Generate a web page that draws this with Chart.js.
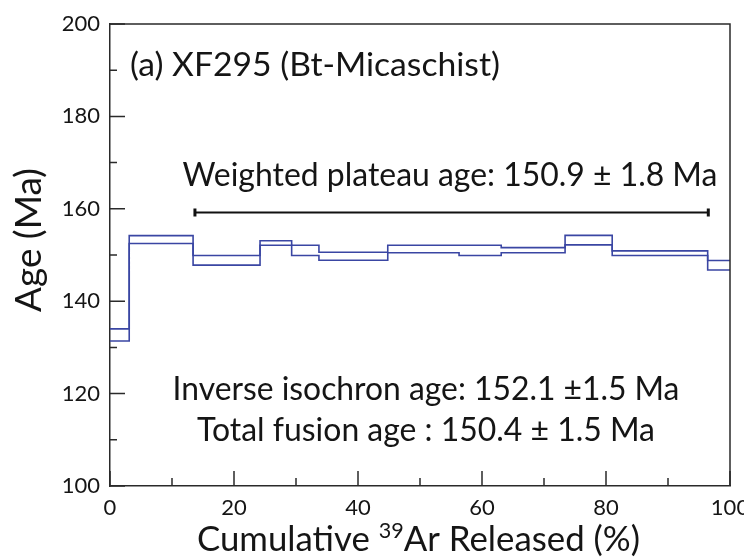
<!DOCTYPE html>
<html><head><meta charset="utf-8">
<script src="https://cdn.jsdelivr.net/npm/chart.js@4/dist/chart.umd.min.js"></script>
<style>html,body{margin:0;padding:0;background:#fff}#wrap{width:744px;height:558px}</style>
</head><body><div id="wrap"><canvas id="c" width="744" height="558"></canvas></div>
<script>
// ---- data ----
const stepStart = [0, 3.1, 13.4, 24.2, 29.3, 33.7, 44.8, 56.3, 63.1, 73.4, 81.0, 96.4];
const stepEnd = 100;
const upperAge = [134.0, 154.2, 149.9, 153.1, 152.1, 150.6, 152.1, 152.1, 151.6, 154.25, 150.9, 148.8];
const lowerAge = [131.4, 152.5, 147.8, 152.1, 149.9, 148.85, 150.5, 149.9, 150.5, 152.2, 149.9, 146.75];
const plateauX = [13.7, 96.5];
const plateauY = 159.2;
const xMajorTicks = [0, 20, 40, 60, 80, 100];
const xMinorTicks = [10, 30, 50, 70, 90];
const yMajorTicks = [100, 120, 140, 160, 180, 200];
const yMinorTicks = [110, 130, 150, 170, 190];
const sampleLabel = "(a) XF295 (Bt-Micaschist)";
const plateauLabel = "Weighted plateau age: 150.9 \u00B1 1.8 Ma";
const isochronLabel = "Inverse isochron age: 152.1 \u00B11.5 Ma";
const fusionLabel = "Total fusion age : 150.4 \u00B1 1.5 Ma";
const yTitle = "Age (Ma)";
const xTitleParts = ["Cumulative ", "39", "Ar Released (%)"];

const FONT = "Lato";
const BLUE = "#3a46a3";

function stepPoints(vals) {
  const pts = stepStart.map((x, i) => ({x, y: vals[i]}));
  pts.push({x: stepEnd, y: vals[vals.length - 1]});
  return pts;
}

function fitDraw(ctx, text, x, y, targetW, align, base) {
  ctx.font = base + "px " + FONT;
  const w = ctx.measureText(text).width;
  const size = base * targetW / w;
  ctx.font = size.toFixed(2) + "px " + FONT;
  ctx.textAlign = align;
  ctx.textBaseline = "alphabetic";
  ctx.fillText(text, x, y);
}

const decor = {
  id: "decor",
  afterDraw(chart) {
    const ctx = chart.ctx, a = chart.chartArea;
    const xs = chart.scales.x, ys = chart.scales.y;
    ctx.save();
    ctx.strokeStyle = "#2a2a2a";
    ctx.lineWidth = 1.5;
    ctx.beginPath();
    ctx.moveTo(a.left, a.top); ctx.lineTo(a.right, a.top); ctx.lineTo(a.right, a.bottom);
    ctx.stroke();
    ctx.beginPath();
    yMajorTicks.forEach(v => { const p = ys.getPixelForValue(v); ctx.moveTo(a.left, p); ctx.lineTo(a.left + 15, p); });
    yMinorTicks.forEach(v => { const p = ys.getPixelForValue(v); ctx.moveTo(a.left, p); ctx.lineTo(a.left + 7, p); });
    xMajorTicks.forEach(v => { const p = xs.getPixelForValue(v); ctx.moveTo(p, a.bottom); ctx.lineTo(p, a.bottom - 15); });
    xMinorTicks.forEach(v => { const p = xs.getPixelForValue(v); ctx.moveTo(p, a.bottom); ctx.lineTo(p, a.bottom - 8); });
    ctx.stroke();

    ctx.fillStyle = "#151515";
    fitDraw(ctx, sampleLabel, 130, 76, 370, "left", 28);
    fitDraw(ctx, plateauLabel, 450, 186, 535, "center", 28);
    fitDraw(ctx, isochronLabel, 426, 400, 507, "center", 28);
    fitDraw(ctx, fusionLabel, 426, 441, 458, "center", 28);

    // y title
    ctx.save();
    ctx.translate(41, 240);
    ctx.rotate(-Math.PI / 2);
    fitDraw(ctx, yTitle, 0, 0, 144, "center", 32);
    ctx.restore();

    // x title with superscript
    const base = 32, supR = 0.62;
    ctx.font = base + "px " + FONT;
    const w0 = ctx.measureText(xTitleParts[0]).width;
    const w2 = ctx.measureText(xTitleParts[2]).width;
    ctx.font = (base * supR) + "px " + FONT;
    const w1 = ctx.measureText(xTitleParts[1]).width;
    const k = 443 / (w0 + w1 + w2);
    const s = base * k;
    let x = 197, y = 551;
    ctx.textAlign = "left"; ctx.textBaseline = "alphabetic";
    ctx.font = s.toFixed(2) + "px " + FONT;
    ctx.fillText(xTitleParts[0], x, y); x += w0 * k;
    ctx.font = (s * supR).toFixed(2) + "px " + FONT;
    ctx.fillText(xTitleParts[1], x, y - s * 0.38); x += w1 * k;
    ctx.font = s.toFixed(2) + "px " + FONT;
    ctx.fillText(xTitleParts[2], x, y);
    ctx.restore();
  }
};

new Chart(document.getElementById("c"), {
  type: "scatter",
  data: {
    datasets: [
      {data: stepPoints(upperAge), showLine: true, stepped: true, borderColor: BLUE, borderWidth: 1.6, pointRadius: 0, fill: false},
      {data: stepPoints(lowerAge), showLine: true, stepped: true, borderColor: BLUE, borderWidth: 1.6, pointRadius: 0, fill: false},
      {data: plateauX.map(x => ({x, y: plateauY})), showLine: true, borderColor: "#111", borderWidth: 2,
       pointStyle: "line", rotation: 90, pointRadius: 4, pointBorderWidth: 3, pointBorderColor: "#111", fill: false}
    ]
  },
  options: {
    responsive: false, animation: false, devicePixelRatio: 1,
    layout: {padding: {left: 0, top: 24, right: 14, bottom: 0}},
    plugins: {legend: {display: false}, tooltip: {enabled: false}},
    scales: {
      x: {type: "linear", min: 0, max: 100,
          ticks: {stepSize: 20, padding: 9, color: "#151515", font: {family: FONT, size: 22}},
          grid: {display: false, drawTicks: false},
          border: {display: true, color: "#2a2a2a", width: 1.5},
          afterFit(s) { s.height = 72; s.paddingLeft = 0; s.paddingRight = 0; }},
      y: {type: "linear", min: 100, max: 200,
          ticks: {stepSize: 20, padding: 10, color: "#151515", font: {family: FONT, size: 22}},
          grid: {display: false, drawTicks: false},
          border: {display: true, color: "#2a2a2a", width: 1.5},
          afterFit(s) { s.width = 110; s.paddingTop = 0; s.paddingBottom = 0; }}
    }
  },
  plugins: [decor]
});
</script></body></html>
